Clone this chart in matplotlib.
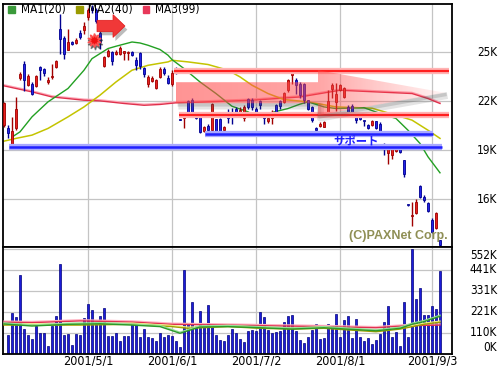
import numpy as np
import matplotlib
matplotlib.use('Agg')
import matplotlib.pyplot as plt
import matplotlib.patheffects as pe
from matplotlib.patches import FancyArrow, Rectangle
from matplotlib.transforms import blended_transform_factory

plt.rcParams['font.family'] = ['Liberation Sans Narrow', 'DejaVu Sans']
plt.rcParams['font.stretch'] = 'condensed'

# daily candles (price in thousand yen), one per trading day
opens = [20.53, 20.36, 19.20, 20.33, 23.45, 24.31, 22.98, 23.04, 22.92, 24.10,
         24.00, 23.16, 23.50, 24.10, 26.45, 25.90, 25.17, 25.63, 25.57, 26.21,
         26.39, 27.16, 27.74, 27.61, 26.20, 24.16, 24.77, 25.02, 24.92, 24.92,
         24.98, 24.94, 25.02, 24.51, 24.98, 24.04, 23.08, 23.24, 22.78, 23.49,
         24.00, 23.45, 23.08, 24.00, 20.90, 20.96, 22.02, 22.10, 21.14, 21.08,
         20.18, 20.47, 20.22, 20.88, 20.92, 20.22, 21.30, 21.35, 21.55, 21.35,
         20.94, 22.16, 22.10, 21.55, 22.02, 21.08, 20.79, 20.94, 21.75, 22.02,
         21.96, 22.67, 23.61, 23.29, 23.04, 23.04, 22.06, 21.65, 20.33, 20.47,
         20.43, 21.14, 22.72, 21.96, 22.67, 22.26, 21.65, 21.69, 21.25, 21.08,
         20.79, 20.57, 20.55, 20.76, 20.63, 19.37, 18.84, 18.71, 18.94, 19.16,
         18.40, 15.65, 14.98, 15.12, 16.79, 16.14, 15.74, 14.71, 14.20, 13.49]
highs = [21.96, 20.53, 21.04, 22.26, 23.79, 24.45, 23.65, 23.16, 23.59, 24.14,
         24.02, 23.49, 24.31, 24.51, 27.33, 25.98, 26.45, 25.67, 25.86, 26.35,
         26.86, 27.74, 27.88, 27.69, 26.30, 24.75, 25.23, 25.08, 25.12, 25.37,
         25.05, 25.05, 25.08, 24.71, 25.00, 24.10, 23.59, 23.53, 23.39, 24.10,
         24.10, 23.59, 23.90, 24.10, 20.92, 21.25, 22.06, 22.20, 21.20, 21.14,
         20.45, 20.60, 21.86, 20.92, 20.98, 20.50, 21.50, 21.57, 21.65, 21.65,
         21.75, 22.20, 22.20, 21.65, 22.10, 21.20, 21.10, 21.45, 21.85, 22.10,
         22.57, 23.39, 23.84, 23.45, 23.20, 23.10, 22.10, 21.70, 20.40, 20.70,
         20.80, 22.67, 23.10, 23.10, 23.04, 22.90, 21.75, 21.80, 21.30, 21.12,
         20.80, 20.62, 20.82, 20.80, 20.70, 19.45, 19.23, 19.12, 19.35, 19.25,
         18.42, 15.66, 15.83, 16.00, 16.85, 16.24, 15.80, 14.83, 15.22, 13.50]
lows = [20.43, 19.72, 19.12, 20.22, 23.33, 22.63, 22.92, 22.37, 22.86, 23.29,
        23.53, 23.08, 23.39, 24.02, 24.92, 24.61, 25.12, 25.43, 25.49, 25.84,
        26.15, 26.96, 27.39, 26.79, 25.20, 24.10, 24.71, 24.20, 24.82, 24.82,
        24.51, 24.51, 24.76, 23.90, 24.00, 23.50, 22.90, 23.20, 22.72, 23.45,
        23.60, 23.08, 22.92, 23.65, 20.84, 20.33, 21.19, 21.20, 20.90, 20.06,
        20.12, 19.90, 19.92, 19.86, 20.10, 20.10, 20.65, 20.63, 21.05, 21.14,
        20.80, 21.55, 21.45, 21.10, 21.55, 20.60, 20.65, 20.60, 21.25, 21.55,
        21.90, 22.55, 23.08, 22.47, 22.20, 21.90, 21.45, 20.73, 20.10, 20.40,
        20.40, 21.02, 22.20, 21.40, 22.60, 22.20, 21.20, 21.30, 20.69, 20.86,
        20.50, 20.30, 20.45, 20.30, 19.85, 18.70, 18.12, 18.45, 18.90, 18.85,
        17.33, 15.60, 14.36, 15.10, 16.08, 15.80, 15.20, 13.90, 14.17, 13.15]
closes = [21.86, 20.02, 20.16, 21.55, 23.65, 23.29, 23.53, 22.43, 23.53, 23.90,
          23.73, 23.33, 23.53, 24.45, 25.84, 24.92, 25.63, 25.49, 25.78, 25.94,
          26.59, 27.57, 27.57, 26.92, 25.60, 24.71, 25.08, 24.47, 25.02, 25.29,
          25.02, 25.00, 24.82, 24.20, 24.14, 23.65, 23.49, 23.45, 23.29, 24.00,
          23.70, 23.12, 23.73, 23.73, 20.86, 21.20, 21.25, 21.29, 21.00, 20.12,
          20.39, 20.22, 21.82, 20.06, 20.18, 20.39, 20.97, 21.04, 21.14, 21.49,
          21.65, 21.65, 21.65, 21.28, 21.75, 20.94, 21.00, 21.35, 21.35, 21.70,
          22.51, 23.33, 23.73, 22.98, 22.37, 22.06, 21.55, 20.84, 20.22, 20.60,
          20.73, 22.00, 22.98, 22.47, 22.98, 22.84, 21.25, 21.35, 20.84, 20.88,
          20.76, 20.37, 20.80, 20.37, 20.20, 19.16, 19.16, 19.04, 19.23, 18.90,
          17.54, 15.61, 15.02, 15.83, 16.14, 15.94, 15.28, 14.00, 15.12, 13.18]

# volume in thousand shares, from the 2nd candle on
volume = [100, 216, 195, 415, 130, 100, 79, 147, 109, 109,
          42, 147, 200, 473, 100, 105, 47, 103, 100, 189,
          263, 231, 166, 200, 242, 95, 95, 109, 68, 95,
          95, 158, 158, 89, 130, 89, 84, 68, 110, 89,
          100, 95, 68, 37, 441, 163, 273, 147, 226, 147,
          257, 147, 100, 74, 68, 100, 131, 109, 77, 61,
          121, 126, 121, 221, 195, 126, 110, 114, 121, 168,
          200, 205, 121, 74, 58, 89, 126, 158, 79, 84,
          158, 153, 210, 89, 179, 200, 84, 184, 89, 68,
          84, 53, 74, 105, 168, 252, 89, 116, 42, 273,
          89, 552, 289, 347, 205, 205, 252, 237, 436]

# moving averages (candle index, value)
ma1_idx = [2, 4, 7, 11, 16, 20, 22, 24, 26, 28, 32, 34, 36, 39, 41, 42, 45, 49,
           53, 57, 61, 62, 66, 71, 74, 76, 80, 83, 90, 94, 98, 101, 104, 106, 109]
ma1_val = [19.80, 20.12, 21.04, 21.96, 22.78, 23.90, 24.61, 24.92, 25.23, 25.37,
           25.63, 25.57, 25.43, 25.17, 24.82, 24.55, 24.00, 23.18, 22.47, 21.69,
           21.35, 21.20, 21.25, 21.55, 21.82, 21.96, 21.65, 21.55, 21.60, 21.25,
           20.94, 20.22, 19.41, 18.59, 17.61]
ma2_idx = [0, 3, 7, 11, 16, 20, 24, 28, 32, 36, 41, 42, 46, 51, 56, 59, 62, 66,
           70, 76, 83, 92, 98, 102, 106, 109]
ma2_val = [19.55, 19.72, 19.92, 20.33, 21.04, 21.65, 22.37, 23.18, 23.90, 24.20,
           24.41, 24.51, 24.41, 24.25, 23.90, 23.49, 22.98, 22.47, 22.10, 21.96,
           21.65, 21.57, 21.14, 20.84, 20.22, 19.72]
ma3_idx = [0, 7, 12, 16, 20, 24, 30, 35, 39, 43, 50, 62, 74, 84, 93, 102, 106, 109]
ma3_val = [22.94, 22.57, 22.26, 22.16, 22.06, 22.02, 21.86, 21.75, 21.80, 21.90,
           21.95, 22.06, 22.26, 22.67, 22.57, 22.47, 22.16, 21.86]

vm1_idx = [0, 7, 16, 24, 32, 39, 44, 49, 56, 64, 72, 80, 93, 99, 102, 105, 109]
vm1_val = [158, 147, 156, 159, 152, 144, 109, 142, 144, 138, 131, 138, 122, 135, 156, 170, 198]
vm2_idx = [0, 19, 32, 42, 46, 56, 64, 72, 80, 93, 99, 105, 109]
vm2_val = [152, 152, 156, 144, 135, 144, 135, 131, 135, 117, 131, 156, 167]
vm3_idx = [0, 7, 19, 32, 42, 56, 64, 80, 93, 101, 109]
vm3_val = [167, 165, 174, 168, 156, 152, 149, 144, 138, 149, 152]

tick_pos = [21, 42, 63, 84, 107]
tick_labels = ['2001/5/1', '2001/6/1', '2001/7/2', '2001/8/1', '2001/9/3']
price_ticks = [16, 19, 22, 25]
vol_ticks = [0, 110.4, 220.8, 331.2, 441.6, 552]
vol_labels = ['0K', '110K', '221K', '331K', '441K', '552K']

legend_names = ['MA1(20)', 'MA2(40)', 'MA3(99)']
legend_colors = ['#3a9a3a', '#9a9a00', '#e8385a']

# support / resistance lines: (price, first index, last index)
red_lines = [(23.87, 42.6, 111.2), (21.15, 43.8, 111.2)]
blue_lines = [(19.97, 50.2, 107.2), (19.21, 1.3, 109.4)]

W, H = 503, 366


def fbox(x0, y0, x1, y1):
    return [x0 / W, 1 - y1 / H, (x1 - x0) / W, (y1 - y0) / H]


fig = plt.figure(figsize=(W / 100, H / 100), dpi=100)
ax = fig.add_axes(fbox(3, 4, 452, 247))
axv = fig.add_axes(fbox(3, 247, 452, 354))

grid_kw = dict(color='#c4c4c4', lw=0.9)
for a in (ax, axv):
    a.set_xticks(tick_pos)
    a.tick_params(length=0)
    a.grid(True, **grid_kw)
    a.set_axisbelow(True)
    for s in a.spines.values():
        s.set_color('black')
        s.set_linewidth(1.3)
ax.set_yticks(price_ticks)
ax.set_xticklabels([])
ax.set_yticklabels([])
axv.set_yticks(vol_ticks[1:])
axv.set_yticklabels([])
axv.set_xticklabels(tick_labels, fontsize=9)
axv.tick_params(axis='x', pad=0)

# candles
o = np.array(opens)
hi = np.array(highs)
lo = np.array(lows)
c = np.array(closes)
x = np.arange(len(o))
up = c >= o
body_col = ['#e8221e' if u else '#2424e8' for u in up]
edge_col = ['#a00000' if u else '#000090' for u in up]

ax.plot(ma3_idx, ma3_val, color='#e0304c', lw=1, zorder=2,
        path_effects=[pe.SimpleLineShadow(offset=(0, 0.8), shadow_color='#ffa8b8', alpha=1), pe.Normal()])
ax.plot(ma2_idx, ma2_val, color='#c4c400', lw=1.1, zorder=2)
ax.plot(ma1_idx, ma1_val, color='#22a022', lw=1, zorder=2)

ax.vlines(x, lo, hi, colors=edge_col, lw=1, zorder=3)
ax.bar(x, np.maximum(np.abs(c - o), 0.07), bottom=np.minimum(o, c), width=0.72,
       color=body_col, edgecolor=edge_col, linewidth=0.6, zorder=4)

# support / resistance lines with glow
for y, x0, x1 in red_lines:
    ax.hlines(y, x0, x1, color='#ffb4b4', lw=4.5, zorder=5)
    ax.hlines(y, x0, x1, color='#ff2020', lw=1.6, zorder=5)
for y, x0, x1 in blue_lines:
    ax.hlines(y, x0, x1, color='#a8a8ff', lw=4.5, zorder=5)
    ax.hlines(y, x0, x1, color='#2020ff', lw=1.8, zorder=5)

# big translucent arrow
yc, x_start, x_tip = 22.52, 43, 110.25
body_w, head_w, head_l = 1.29, 2.76, 31.75
x_neck = x_tip - head_l
sx = [x_start, x_neck, x_neck, x_tip]
sy = [yc - body_w / 2, yc - body_w / 2, yc - head_w / 2, yc]
ax.plot(np.array(sx) + 0.6, np.array(sy) - 0.17, color='#505050', lw=5, alpha=0.15, zorder=5.5,
        solid_capstyle='butt')
ax.plot(np.array(sx) + 0.4, np.array(sy) - 0.1, color='#505050', lw=2.5, alpha=0.2, zorder=5.5,
        solid_capstyle='butt')
arrow = FancyArrow(x_start, yc, x_tip - x_start, 0, width=body_w, head_width=head_w,
                   head_length=head_l, length_includes_head=True, fc='none', ec='none', zorder=6)
ax.add_patch(arrow)
grad = np.zeros((2, 256, 4))
grad[..., 0] = 1.0
grad[..., 1] = 0.3
grad[..., 2] = 0.3
grad[..., 3] = np.interp(np.linspace(0, 1, 256), [0, 0.53, 1], [0.6, 0.5, 0.06])
im = ax.imshow(grad, extent=[x_start, x_tip, yc - head_w / 2, yc + head_w / 2],
               aspect='auto', zorder=6, interpolation='bilinear')
im.set_clip_path(arrow)

# small arrow and burst at the top
sa_x, sa_y = 23.25, 26.61
ax.add_patch(FancyArrow(sa_x + 0.6, sa_y - 0.22, 7, 0, width=0.7, head_width=1.4, head_length=3,
                        length_includes_head=True, fc='#404040', ec='none', alpha=0.35, zorder=6.5))
ax.add_patch(FancyArrow(sa_x, sa_y, 7, 0, width=0.7, head_width=1.4, head_length=3,
                        length_includes_head=True, fc='#f03838', ec='#e01818', lw=0.5, zorder=7))
ax.plot(22.7, 25.6, marker=(10, 1, 0), ms=11, color='#202020', alpha=0.5, zorder=6.5)
ax.plot(22.5, 25.75, marker=(10, 1, 0), ms=10, color='#ee1111', mec='#ff5050', zorder=7)

ax.text(87.9, 19.59, 'サポート', color='#2020ff', fontsize=8.2, fontweight='bold',
        family=['Noto Sans CJK JP', 'DejaVu Sans'], ha='center', va='center', zorder=8)
ax.text(98.5, 13.73, '(C)PAXNet Corp.', color='#8f8f55', fontsize=9, fontweight='bold',
        family=['Liberation Sans', 'DejaVu Sans'], stretch='normal',
        ha='center', va='center', zorder=8)

ax.set_xlim(-0.25, 112)
ax.set_ylim(13.06, 27.96)

# volume
axv.bar(np.arange(1, len(volume) + 1), volume, width=0.7, color='#1c1cd8',
        edgecolor='#00007a', linewidth=0.5, zorder=2)
for idx, val, col, light in [(vm3_idx, vm3_val, '#e03050', '#ffb0c0'),
                             (vm2_idx, vm2_val, '#a0a000', '#f0f080'),
                             (vm1_idx, vm1_val, '#2a9a2a', '#98e098')]:
    axv.plot(idx, val, color=col, lw=1, zorder=3,
             path_effects=[pe.SimpleLineShadow(offset=(0, 0.8), shadow_color=light, alpha=1), pe.Normal()])
axv.set_xlim(-0.25, 112)
axv.set_ylim(0, 562.5)

# right side value labels
lab_x = (497 - 3) / 449
tr = blended_transform_factory(ax.transAxes, ax.transData)
for v in price_ticks:
    ax.text(lab_x, v, f'{v}K', transform=tr, ha='right', va='center', fontsize=8.5, clip_on=False)
trv = blended_transform_factory(axv.transAxes, axv.transData)
for i, (v, t) in enumerate(zip(vol_ticks, vol_labels)):
    va = 'bottom' if i == 0 else ('top' if i == len(vol_ticks) - 1 else 'center')
    axv.text(lab_x, v, t, transform=trv, ha='right', va=va, fontsize=8.5, clip_on=False)

# legend
sq_x = [8.3, 76, 142.7]
for sx0, name, col in zip(sq_x, legend_names, legend_colors):
    fig.add_artist(Rectangle((sx0 / W, 1 - 12.7 / H), 6.7 / W, 6.7 / H, color=col,
                             transform=fig.transFigure))
    fig.text((sx0 + 12.4) / W, 1 - 10 / H, name, va='center', fontsize=8.5)

fig.savefig('out.png', dpi=100, facecolor='white')
